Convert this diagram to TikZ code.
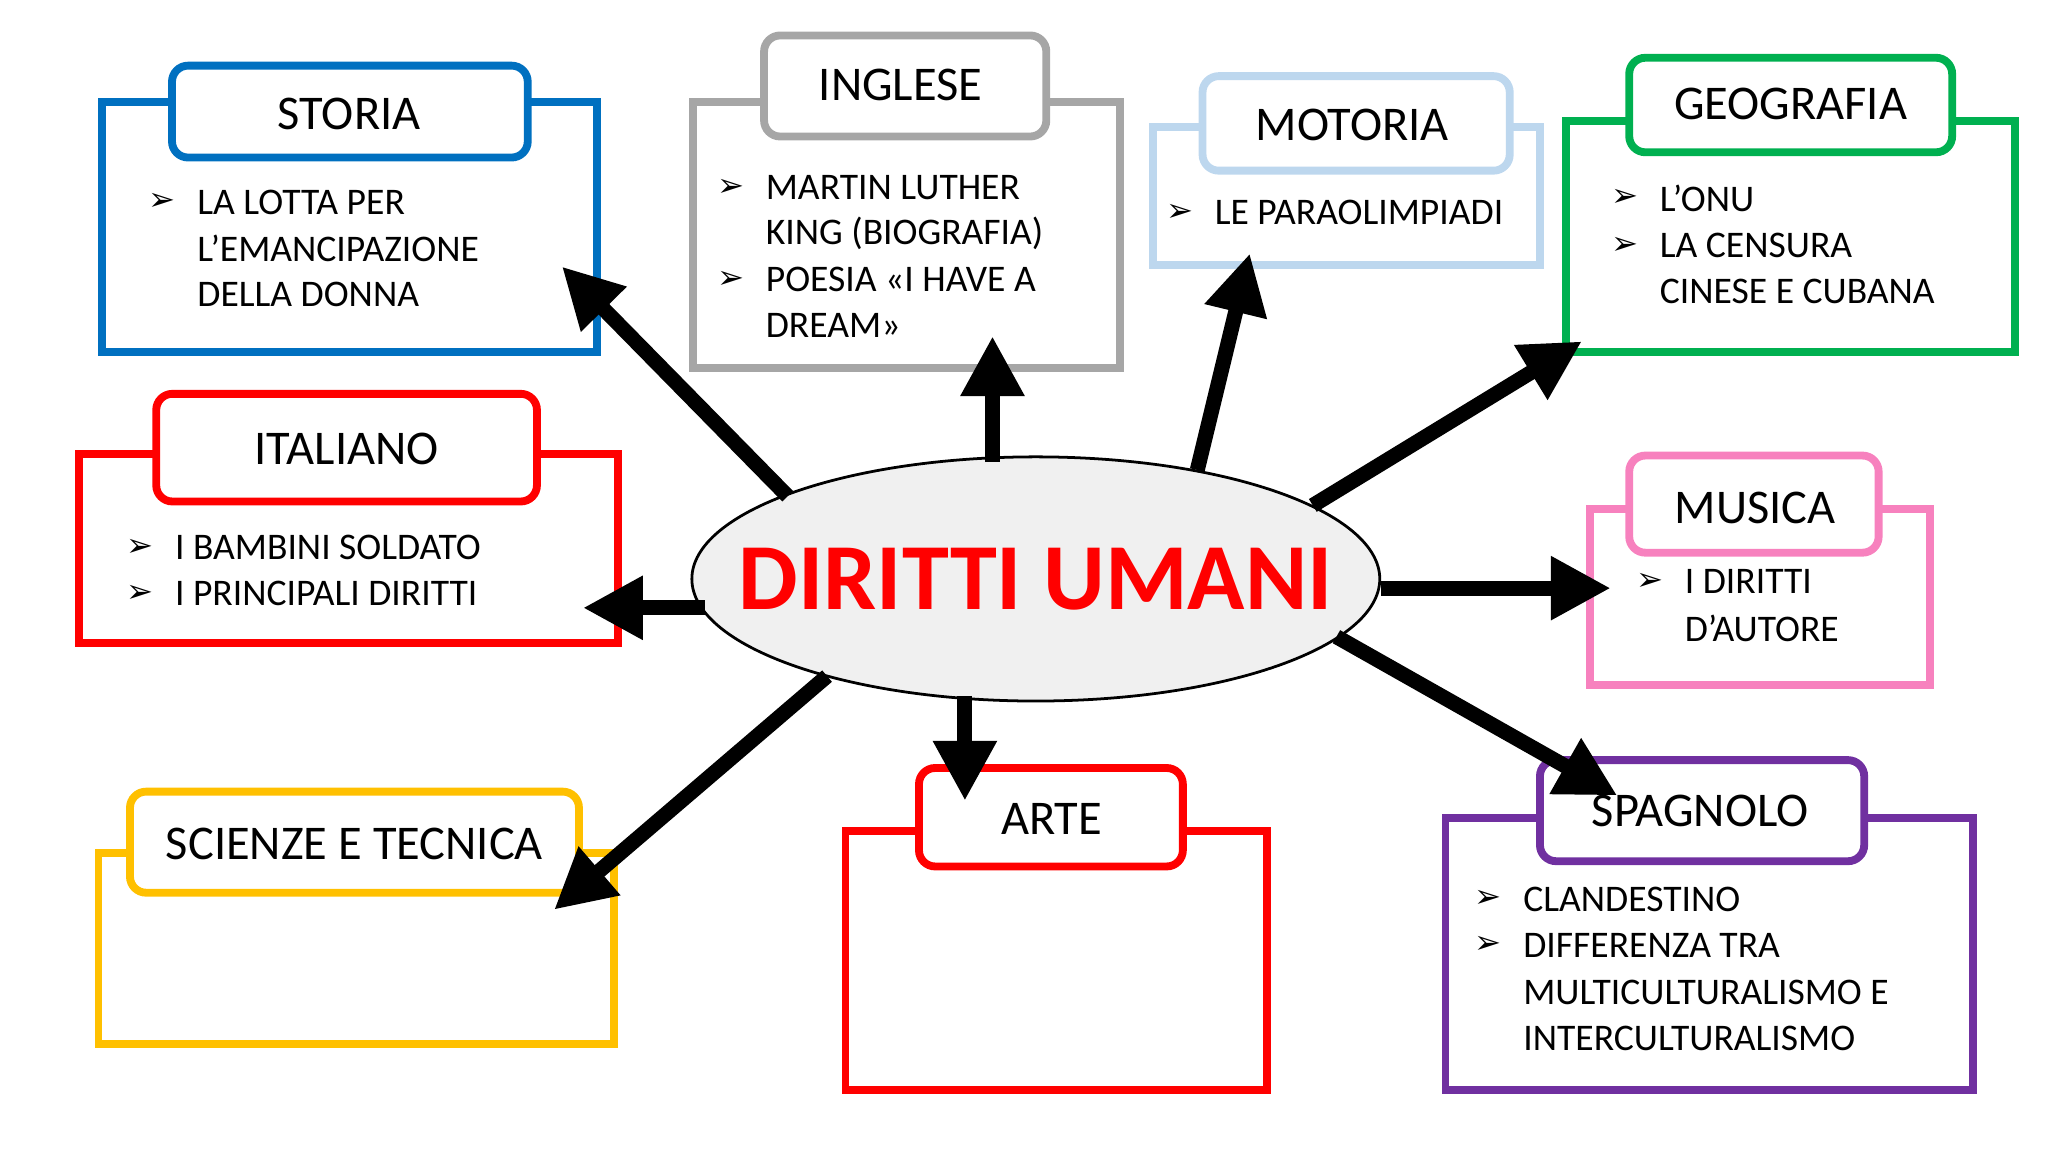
\documentclass[tikz,border=0pt]{standalone}
\usepackage{fontspec}
\setmainfont{Carlito}
\newfontfamily\dejav{DejaVu Sans}
\usetikzlibrary{arrows.meta}
\definecolor{cblue}{HTML}{0070C0}
\definecolor{cgray}{HTML}{A6A6A6}
\definecolor{clblue}{HTML}{BDD7EE}
\definecolor{cgreen}{HTML}{00B050}
\definecolor{cred}{HTML}{FF0000}
\definecolor{cpink}{HTML}{F781BE}
\definecolor{cyellow}{HTML}{FFC000}
\definecolor{cpurple}{HTML}{7030A0}
\newcommand{\bul}{{\dejav\fontsize{14}{14}\selectfont ➢}}
\begin{document}
\begin{tikzpicture}[x=0.02cm,y=-0.02cm,
  outerbox/.style={line width=3.4pt},
  tabbox/.style={line width=3.4pt,rounded corners=7pt,fill=white},
  ttl/.style={font=\fontsize{21}{21}\selectfont},
  txt/.style={font=\fontsize{16.3}{16}\selectfont,anchor=west,inner sep=0pt},
  bl/.style={anchor=west,inner sep=0pt},
  arr/.style={line width=6.5pt,-{Triangle[length=26pt,width=26pt]}}]
\useasboundingbox (0,0) rectangle (1560,878);
% STORIA
\draw[outerbox,draw=cblue] (78,78) rectangle (455,268);
\draw[tabbox,draw=cblue] (131,50) rectangle (402,120);
\node[ttl] (storia) at (266,87) {STORIA};
\node[bl] (s1) at (113,154) {\bul};
\node[txt] (s1t) at (150,154) {LA LOTTA PER};
\node[txt] (s2t) at (150,189) {L’EMANCIPAZIONE};
\node[txt] (s3t) at (150,224) {DELLA DONNA};
% INGLESE
\draw[outerbox,draw=cgray] (528,78) rectangle (853,280);
\draw[tabbox,draw=cgray] (582,27) rectangle (797,104);
\node[ttl] (inglese) at (686,65) {INGLESE};
\node[bl] (i1) at (546,143) {\bul};
\node[txt] (i1t) at (583,143) {MARTIN LUTHER};
\node[txt] (i2t) at (583,178) {KING (BIOGRAFIA)};
\node[bl] (i2) at (546,213) {\bul};
\node[txt] (i3t) at (583,213) {POESIA «I HAVE A};
\node[txt] (i4t) at (583,248) {DREAM»};
% MOTORIA
\draw[outerbox,draw=clblue] (878,97) rectangle (1173,202);
\draw[tabbox,draw=clblue] (916,58) rectangle (1150,130);
\node[ttl] (motoria) at (1030,95) {MOTORIA};
\node[bl] (m1) at (888,162) {\bul};
\node[txt] (m1t) at (925,162) {LE PARAOLIMPIADI};
% GEOGRAFIA
\draw[outerbox,draw=cgreen] (1193,92) rectangle (1535,268);
\draw[tabbox,draw=cgreen] (1241,44) rectangle (1487,116);
\node[ttl] (geo) at (1364,79) {GEOGRAFIA};
\node[bl] (g1) at (1227,151) {\bul};
\node[txt] (g1t) at (1264,151) {L’ONU};
\node[bl] (g2) at (1227,187) {\bul};
\node[txt] (g2t) at (1264,187) {LA CENSURA};
\node[txt] (g3t) at (1264,222) {CINESE E CUBANA};
% ITALIANO
\draw[outerbox,draw=cred] (60,346) rectangle (471,490);
\draw[tabbox,draw=cred] (119,300) rectangle (409,382);
\node[ttl] (ita) at (264,342) {ITALIANO};
\node[bl] (it1) at (96,417) {\bul};
\node[txt] (it1t) at (133,417) {I BAMBINI SOLDATO};
\node[bl] (it2) at (96,452) {\bul};
\node[txt] (it2t) at (133,452) {I PRINCIPALI DIRITTI};
% MUSICA
\draw[outerbox,draw=cpink] (1211,388) rectangle (1470,522);
\draw[tabbox,draw=cpink] (1241,347) rectangle (1431,421);
\node[ttl] (musica) at (1337,387) {MUSICA};
\node[bl] (mu1) at (1246,443) {\bul};
\node[txt] (mu1t) at (1283,443) {I DIRITTI};
\node[txt] (mu2t) at (1283,479) {D’AUTORE};
% SCIENZE
\draw[outerbox,draw=cyellow] (75,650) rectangle (468,795);
\draw[tabbox,draw=cyellow] (99,603) rectangle (441,680);
\node[ttl] (sci) at (270,643) {SCIENZE E TECNICA};
% ARTE
\draw[outerbox,draw=cred] (644,633) rectangle (965,830);
\draw[tabbox,draw=cred] (700,585) rectangle (901,660);
\node[ttl] (arte) at (801,624) {ARTE};
% SPAGNOLO
\draw[outerbox,draw=cpurple] (1101,623) rectangle (1503,830);
\draw[tabbox,draw=cpurple] (1173,579) rectangle (1420,656);
\node[bl] (sp1) at (1123,685) {\bul};
\node[txt] (sp1t) at (1160,685) {CLANDESTINO};
\node[bl] (sp2) at (1123,720) {\bul};
\node[txt] (sp2t) at (1160,720) {DIFFERENZA TRA};
\node[txt] (sp3t) at (1160,756) {MULTICULTURALISMO E};
\node[txt] (sp4t) at (1160,791) {INTERCULTURALISMO};
% center
\draw[fill=gray!12,line width=1.2pt] (789,441) ellipse [x radius=262,y radius=93];
\node[font=\fontsize{41}{41}\selectfont\bfseries,text=cred] (main) at (789,441) {DIRITTI UMANI};
% arrow anchors
\coordinate (a1) at (600,378); \coordinate (b1) at (428,203);
\coordinate (a2) at (756,352); \coordinate (b2) at (756,256);
\coordinate (a3) at (912,358); \coordinate (b3) at (952,193);
\coordinate (a4) at (1000,385); \coordinate (b4) at (1205,260);
\coordinate (a5) at (537,463); \coordinate (b5) at (444,463);
\coordinate (a6) at (1052,448); \coordinate (b6) at (1227,448);
\coordinate (a7) at (1018,485); \coordinate (b7) at (1232,606);
\coordinate (a8) at (735,530); \coordinate (b8) at (735,610);
\coordinate (a9) at (630,515); \coordinate (b9) at (422,693);
\foreach \i in {1,...,9} \draw[arr] (a\i) -- (b\i);
\node[ttl] (spagnolo) at (1295,618) {SPAGNOLO};
\end{tikzpicture}
\end{document}
